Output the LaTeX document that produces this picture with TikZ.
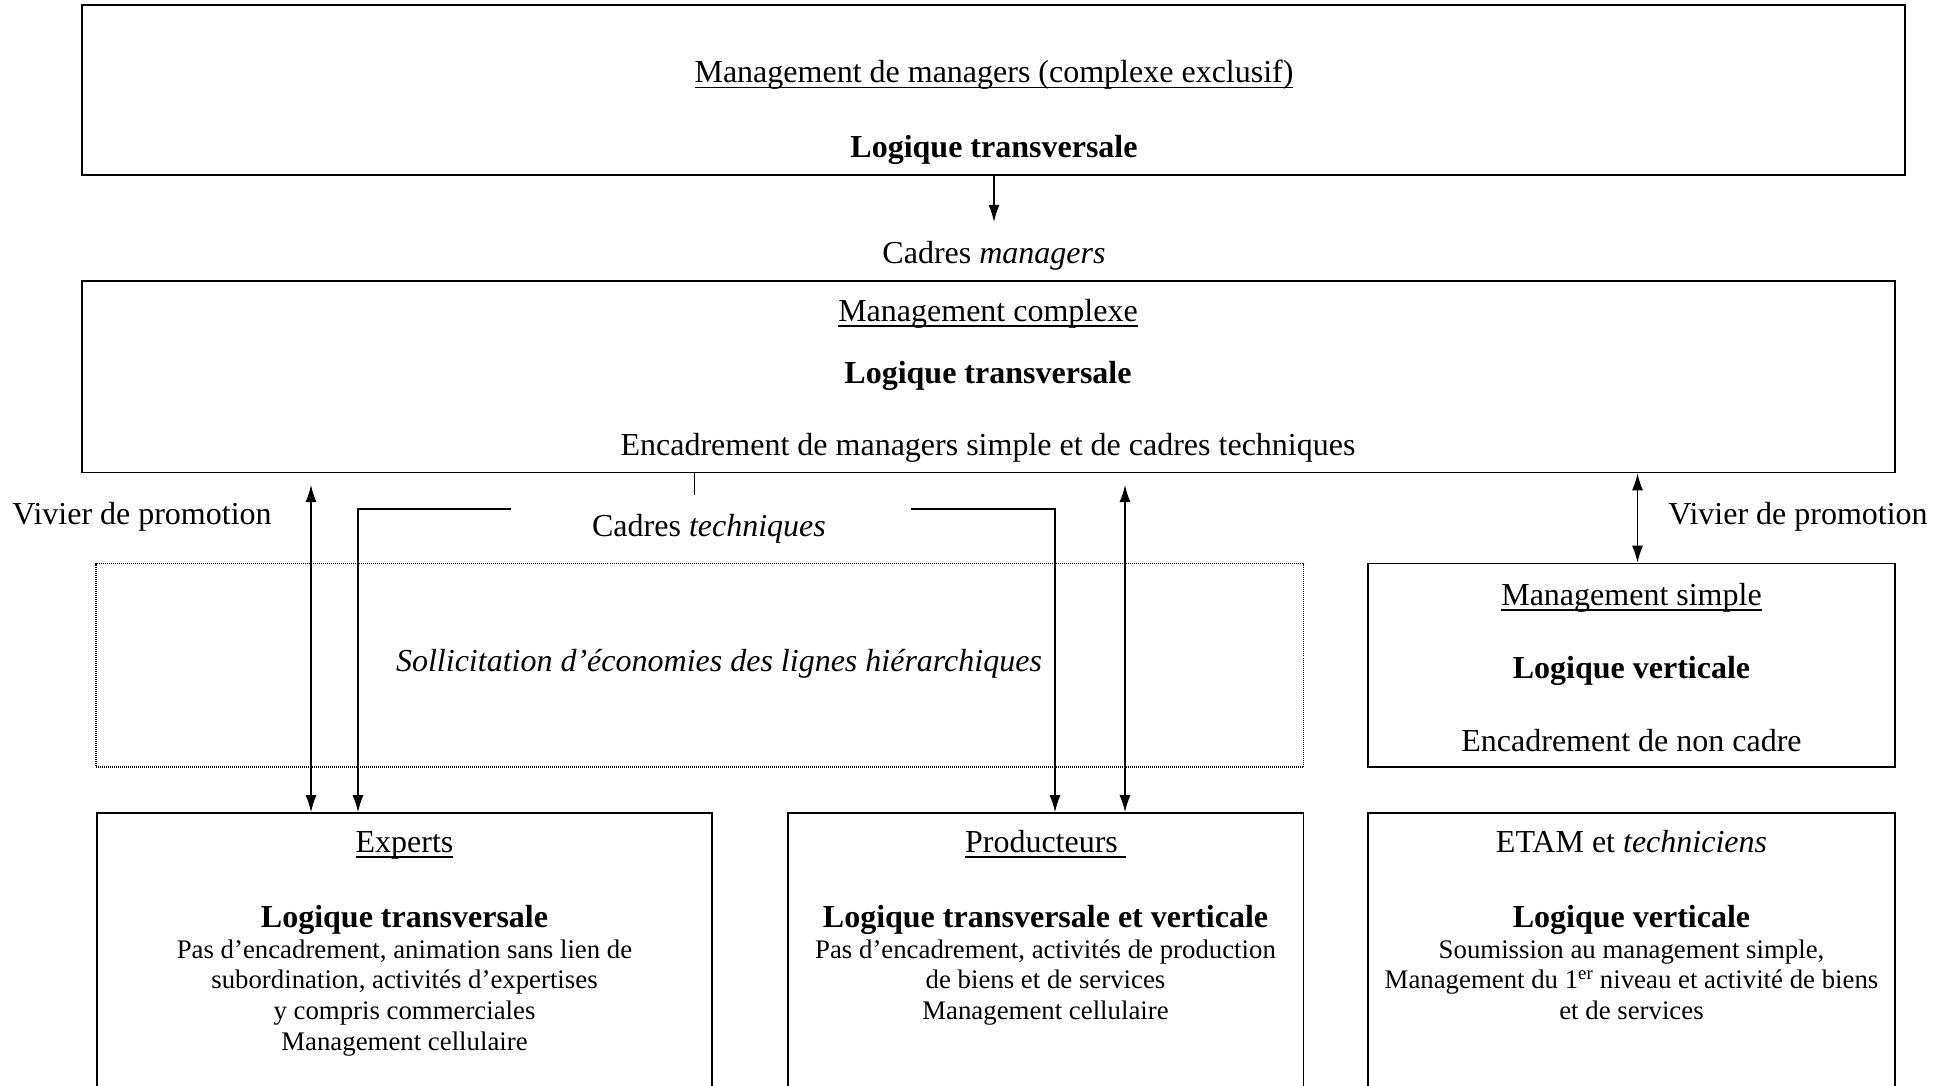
\documentclass[tikz,border=0pt]{standalone}
\usepackage{fontspec}
\setmainfont{Liberation Serif}
\usetikzlibrary{arrows.meta,fit,calc}
\newsavebox\myulbox
\newcommand\myul[1]{\sbox\myulbox{#1}\rlap{\rule[-5.5pt]{\wd\myulbox}{1.8pt}}\usebox\myulbox}
\begin{document}
\begin{tikzpicture}[x=1pt,y=-1pt,
  box/.style={draw, line width=1.6pt, inner sep=0pt},
  txt/.style={anchor=base, inner sep=0pt, font=\fontsize{32}{38}\selectfont},
  bold/.style={txt, font=\fontsize{32}{38}\selectfont\bfseries},
  ital/.style={txt, font=\fontsize{32}{38}\selectfont\itshape},
  small/.style={anchor=base, inner sep=0pt, font=\fontsize{26.8}{31}\selectfont},
  con/.style={line width=1.4pt},
  arr/.style={con, -{Latex[length=17pt,width=11pt]}},
  darr/.style={con, {Latex[length=17pt,width=11pt]}-{Latex[length=17pt,width=11pt]}},
]
\useasboundingbox (0,0) rectangle (1955,1086);

% top box
\node[box, fit={(82,5) (1905,175)}] (top) {};
\node[txt] (toptitle) at (994,83) {\myul{Management de managers (complexe exclusif)}};
\node[bold] (toplog) at (994,157.5) {Logique transversale};

\coordinate (a1) at (994,222);
\draw[arr] (a1 |- top.south) -- (a1);
\node[txt] (cmanag) at (994,263) {Cadres \textit{managers}};

% management complexe
\node[box, fit={(82,281) (1895,472.5)}] (mc) {};
\node[txt] (mctitle) at (988,321.5) {\myul{Management complexe}};
\node[bold] (mclog) at (988,383) {Logique transversale};
\node[txt] (mcenc) at (988,455.5) {Encadrement de managers simple et de cadres techniques};

\coordinate (ct0) at (694.5,495);
\draw[con] (ct0 |- mc.south) -- (ct0);
\node[txt] (ctech) at (709,536) {Cadres \textit{techniques}};

\node[txt] (vivL) at (142,524) {Vivier de promotion};
\node[txt] (vivR) at (1798,524) {Vivier de promotion};

% dotted box
\node[draw, dash pattern=on 1pt off 1pt, line width=1.2pt, inner sep=0pt, fit={(96,563.5) (1303.5,767)}] (sol) {};
\node[ital] (soltext) at (719,671) {Sollicitation d’économies des lignes hiérarchiques};

% management simple
\node[box, fit={(1368,563.5) (1895,767)}] (ms) {};
\node[txt] (mstitle) at (1631.5,605) {\myul{Management simple}};
\node[bold] (mslog) at (1631.5,678.5) {Logique verticale};
\node[txt] (msenc) at (1631.5,751) {Encadrement de non cadre};

% bottom boxes
\node[box, fit={(97,813) (712,1120)}] (exp) {};
\node[box, fit={(788,813) (1303.5,1120)}] (prod) {};
\node[box, fit={(1368,813) (1895,1120)}] (etam) {};

\node[txt] (exptitle) at (404.5,852) {\myul{Experts}};
\node[bold] (explog) at (404.5,927) {Logique transversale};
\node[small] (exp1) at (404.5,958) {Pas d’encadrement, animation sans lien de};
\node[small] (exp2) at (404.5,988.5) {subordination, activités d’expertises};
\node[small] (exp3) at (404.5,1019) {y compris commerciales};
\node[small] (exp4) at (404.5,1050) {Management cellulaire};

\node[txt] (prodtitle) at (1045.5,852) {\myul{Producteurs\ }};
\node[bold] (prodlog) at (1045.5,927) {Logique transversale et verticale};
\node[small] (prod1) at (1045.5,958) {Pas d’encadrement, activités de production};
\node[small] (prod2) at (1045.5,988.5) {de biens et de services};
\node[small] (prod3) at (1045.5,1019) {Management cellulaire};

\node[txt] (etamtitle) at (1631.5,852) {ETAM et \textit{techniciens}};
\node[bold] (etamlog) at (1631.5,927) {Logique verticale};
\node[small] (etam1) at (1631.5,958) {Soumission au management simple,};
\node[small] (etam2) at (1631.5,988.5) {Management du 1\textsuperscript{er} niveau et activité de biens};
\node[small] (etam3) at (1631.5,1019) {et de services};

% connectors
\coordinate (xa) at (311,485);
\draw[darr] (xa) -- (xa |- exp.north);
\coordinate (xb) at (1125,485);
\draw[darr] (xb) -- (xb |- prod.north);
\coordinate (el) at (511,509);
\coordinate (xl) at (358,509);
\draw[arr] (el) -- (xl) -- (xl |- exp.north);
\coordinate (er) at (911,509);
\coordinate (xr) at (1055,509);
\draw[arr] (er) -- (xr) -- (xr |- prod.north);
\coordinate (xv) at (1637.5,520);
\draw[darr] (xv |- mc.south) -- (xv |- ms.north);
\end{tikzpicture}
\end{document}
